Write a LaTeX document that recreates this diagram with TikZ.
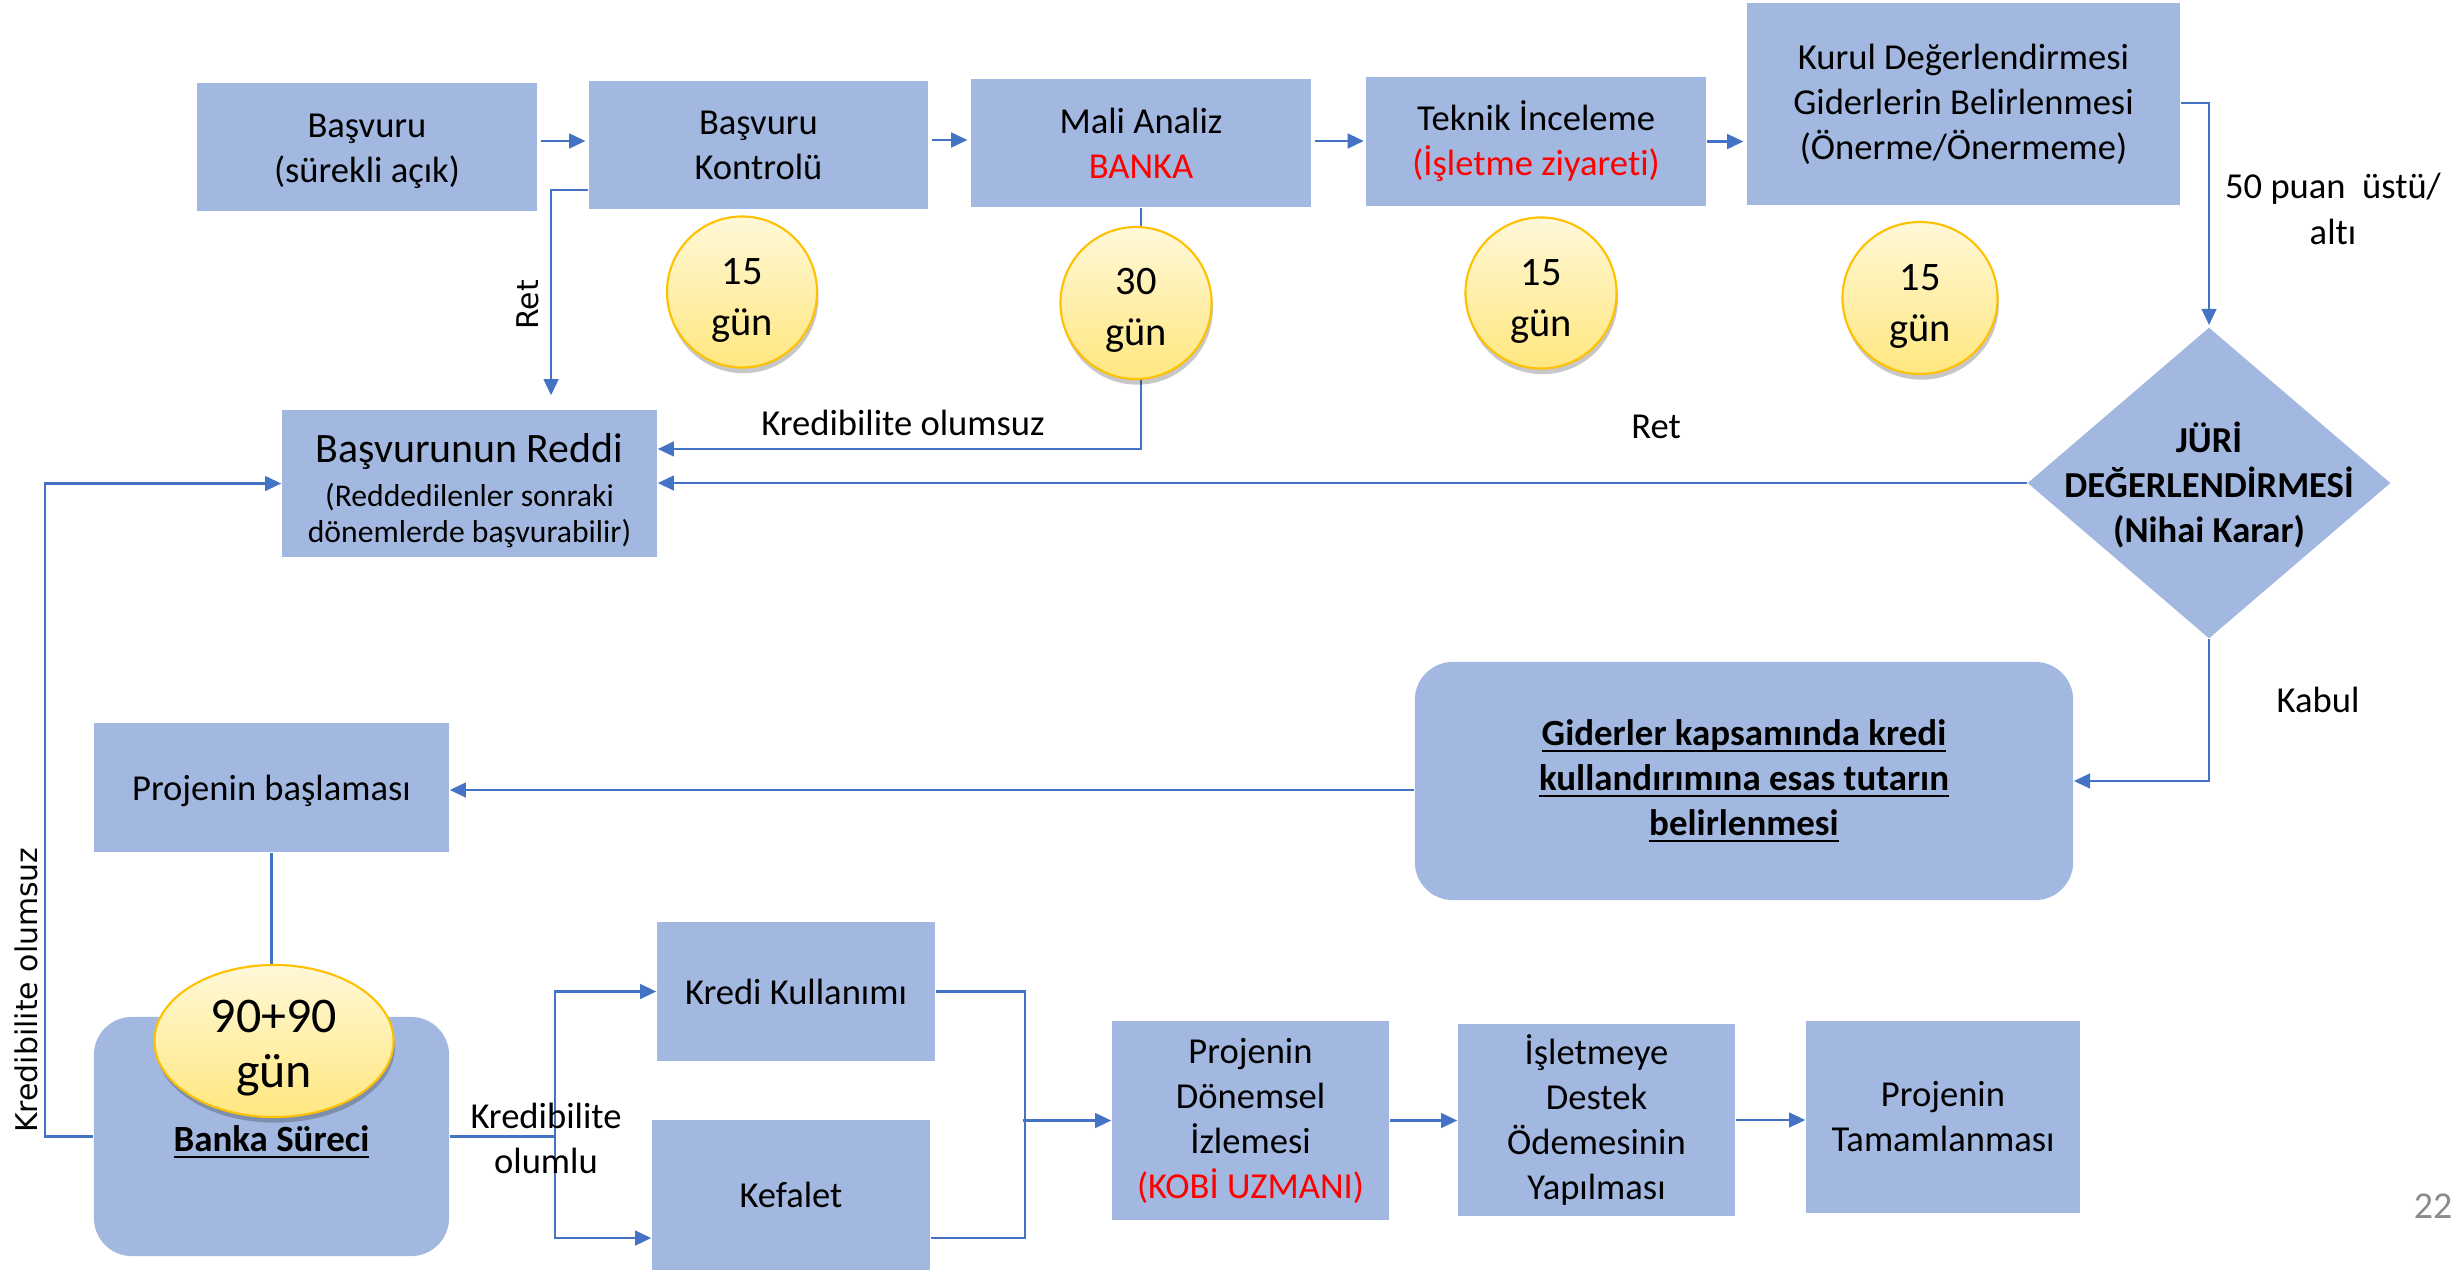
\documentclass[tikz,border=0pt]{standalone}
\usepackage{fontspec}
\setmainfont{Carlito}[Ligatures=NoCommon]
\newfontfamily\dejavu{DejaVu Sans}
\usetikzlibrary{shapes.geometric,arrows.meta,shadows}
\definecolor{boxblue}{HTML}{A2B8E0}
\definecolor{lineblue}{HTML}{4472C4}
\definecolor{ytop}{HTML}{FFF8D8}
\definecolor{ybot}{HTML}{FFE77F}
\definecolor{yborder}{HTML}{FFC000}
\definecolor{pagegray}{HTML}{8C8C8C}
\newcommand{\fsz}[2]{\fontsize{#1}{#2}\selectfont}
\newsavebox\ulbox
\newcommand{\ulb}[1]{\sbox\ulbox{#1}\rlap{\rule[-1.9pt]{\wd\ulbox}{0.72pt}}\usebox\ulbox}
\begin{document}
\begin{tikzpicture}[x=0.01cm,y=-0.01cm,
  box/.style={fill=boxblue, draw=none, align=center, inner sep=0pt, font=\fsz{10.4}{12.8}},
  rbox/.style={box, rounded corners=0.38cm},
  gun/.style={ellipse, draw=yborder, line width=0.6pt, top color=ytop, bottom color=ybot, inner sep=0pt,
    drop shadow={shadow xshift=0.4pt, shadow yshift=-1.6pt, opacity=0.22, fill=black}},
  guntxt/.style={align=center, inner sep=0pt, font=\fsz{11.5}{14.5}},
  conn/.style={draw=lineblue, line width=0.65pt},
  arr/.style={conn, -{Triangle[length=4.6pt,width=4.2pt]}},
  lbl/.style={font=\fsz{10.4}{12.8}, align=center, inner sep=0pt},
  rlbl/.style={font=\dejavu\fsz{8.5}{10}, inner sep=0pt, rotate=90},
]
\fill[white] (0,0) rectangle (2463,1272);
\useasboundingbox (0,0) rectangle (2463,1272);

% ---- boxes ----
\node[box, minimum width=3.40cm, minimum height=1.28cm] (b1) at (367,147) {};
\node[lbl] (b1t) at (367,151) {Başvuru\\(sürekli açık)};
\node[box, minimum width=3.39cm, minimum height=1.28cm] (b2) at (758.5,145) {Başvuru\\Kontrolü};
\node[box, minimum width=3.40cm, minimum height=1.28cm] (b3) at (1141,143) {Mali Analiz\\\textcolor{red}{BANKA}};
\node[box, minimum width=3.40cm, minimum height=1.29cm] (b4) at (1536,141.5) {Teknik İnceleme\\\textcolor{red}{(İşletme ziyareti)}};
\node[box, minimum width=4.33cm, minimum height=2.02cm] (b5) at (1963.5,104) {Kurul Değerlendirmesi\\Giderlerin Belirlenmesi\\(Önerme/Önermeme)};
\node[box, minimum width=3.75cm, minimum height=1.47cm] (reddi) at (469.5,483.5) {};
\node[lbl, font=\fsz{9}{10.2}] (redditxt) at (469.5,490.5)
  {{\fsz{11.9}{13.4}Başvurunun Reddi}\\[2.2pt](Reddedilenler sonraki\\dönemlerde başvurabilir)};
\node[diamond, fill=boxblue, minimum width=3.63cm, minimum height=3.11cm, inner sep=0pt] (juri) at (2209,483) {};
\node[font=\bfseries\fsz{10.4}{12.8}, align=center, inner sep=0pt] (juritxt) at (2209,485) {JÜRİ\\DEĞERLENDİRMESİ\\(Nihai Karar)};
\node[rbox, minimum width=6.58cm, minimum height=2.38cm, font=\bfseries\fsz{10.5}{12.8}] (gid) at (1744,781)
  {\ulb{Giderler kapsamında kredi}\\\ulb{kullandırımına esas tutarın}\\\ulb{belirlenmesi}};
\node[box, minimum width=3.55cm, minimum height=1.29cm] (pb) at (271.5,787.5) {};
\node[lbl] (pbt) at (271.5,791) {Projenin başlaması};
\node[rbox, minimum width=3.55cm, minimum height=2.39cm] (bank) at (271.5,1136.5) {};
\node[font=\bfseries\fsz{10.5}{12.8}, inner sep=0pt] (banktxt) at (271.5,1142) {\ulb{Banka Süreci}};
\node[box, minimum width=2.78cm, minimum height=1.39cm] (kredi) at (796,991.5) {Kredi Kullanımı};
\node[box, minimum width=2.78cm, minimum height=1.50cm] (kefalet) at (791,1195) {Kefalet};
\node[box, minimum width=2.77cm, minimum height=1.99cm] (donem) at (1250.5,1120.5) {Projenin\\Dönemsel\\İzlemesi\\\textcolor{red}{(KOBİ UZMANI)}};
\node[box, minimum width=2.77cm, minimum height=1.92cm] (islet) at (1596.5,1120) {İşletmeye\\Destek\\Ödemesinin\\Yapılması};
\node[box, minimum width=2.74cm, minimum height=1.92cm] (tamam) at (1943,1117) {Projenin\\Tamamlanması};

% ---- connectors ----
\draw[arr, shorten <=0.8pt, shorten >=0.8pt] ([yshift=0.06cm]b1.east) -- ([yshift=0.06cm]b1.east -| b2.west);
\draw[arr, shorten <=0.8pt, shorten >=0.8pt] ([yshift=0.05cm]b2.east) -- ([yshift=0.05cm]b2.east -| b3.west);
\draw[arr, shorten <=0.8pt, shorten >=0.4pt] ([yshift=0.02cm]b3.east) -- ([yshift=0.02cm]b3.east -| b4.west);
\draw[arr, shorten >=0.8pt] (b4.east) -- (b4.east -| b5.west);
\draw[arr, shorten >=0.5pt] ([yshift=0.01cm]b5.east) -| (juri.north);
\draw[arr] (juri.west) -- (juri.west -| reddi.east);
\draw[arr] (juri.south) |- (gid.east);
\draw[arr] ([yshift=-0.09cm]gid.west) -- ([yshift=-0.09cm]gid.west -| pb.east);
\draw[conn] (pb.south) -- (bank.north);
\draw[arr] (b3.south) |- ([yshift=0.345cm]reddi.east);
\draw[arr] ([yshift=-0.45cm]b2.west) -| ([xshift=0.815cm,yshift=0.14cm]reddi.north);
\draw[arr] (bank.west) -- ++(-48,0) |- (reddi.west);
\draw[arr] (bank.east) -- ++(105,0) |- (kredi.west);
\draw[arr] (bank.east) -- ++(105,0) |- ([yshift=-0.43cm]kefalet.west);
\draw[conn] (kredi.east) -- ++(89,0) |- ([yshift=-0.43cm]kefalet.east);
\draw[arr] ([xshift=-0.885cm]donem.west) -- (donem.west);
\draw[arr] (donem.east) -- (donem.east -| islet.west);
\draw[arr] (islet.east) -- (islet.east -| tamam.west);

% ---- labels ----
\node[lbl] (l1) at (903,423) {Kredibilite olumsuz};
\node[lbl] (l2) at (1656,427) {Ret};
\node[lbl, font=\fsz{10.4}{13}] (l3) at (2333,209) {50 puan\ \ üstü/\\altı};
\node[lbl] (l4) at (2318,700) {Kabul};
\node[lbl] (l5) at (546,1138) {Kredibilite\\olumlu};
\node[rlbl] (l6) at (528,305) {Ret};
\node[rlbl] (l7) at (26,990) {Kredibilite olumsuz};
\node[font=\fsz{10.8}{12}, text=pagegray, inner sep=0pt] (pg) at (2433,1206) {22};

% ---- day ellipses ----
\node[gun, minimum width=1.50cm, minimum height=1.51cm] (e1) at (742,292) {};
\node[guntxt] (e1t) at (742,300) {15\\gün};
\node[gun, minimum width=1.51cm, minimum height=1.52cm] (e2) at (1136,303) {};
\node[guntxt] (e2t) at (1136,310) {30\\gün};
\node[gun, minimum width=1.51cm, minimum height=1.51cm] (e3) at (1541,293) {};
\node[guntxt] (e3t) at (1541,301) {15\\gün};
\node[gun, minimum width=1.55cm, minimum height=1.52cm] (e4) at (1920,298) {};
\node[guntxt] (e4t) at (1920,306) {15\\gün};
\node[gun, minimum width=2.39cm, minimum height=1.52cm] (e5) at (274,1041) {};
\node[guntxt, font=\fsz{14.2}{15.5}] (e5t) at (274,1048) {90+90\\gün};
\end{tikzpicture}
\end{document}
